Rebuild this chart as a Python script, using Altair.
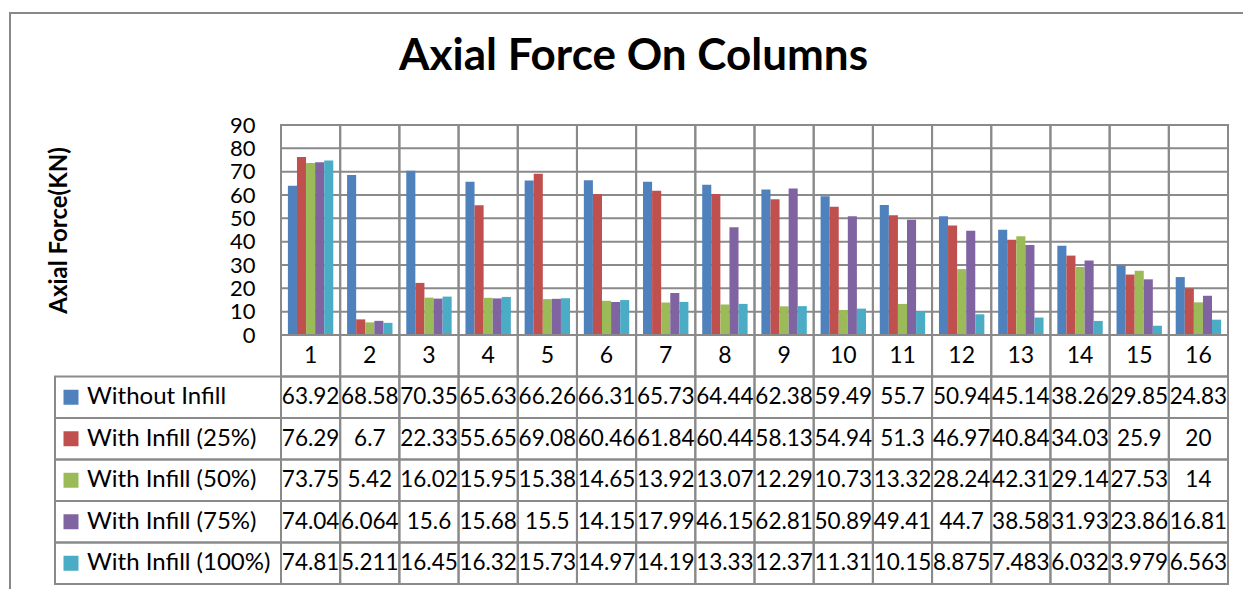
import altair as alt
import pandas as pd

# ---- data -----------------------------------------------------------------
CATEGORIES = [str(i) for i in range(1, 17)]
SERIES = [
    "Without Infill",
    "With Infill (25%)",
    "With Infill (50%)",
    "With Infill (75%)",
    "With Infill (100%)",
]
COLORS = ["#4F81BD", "#C0504D", "#9BBB59", "#8064A2", "#4BACC6"]

WITHOUT_INFILL = [63.92, 68.58, 70.35, 65.63, 66.26, 66.31, 65.73, 64.44,
                  62.38, 59.49, 55.7, 50.94, 45.14, 38.26, 29.85, 24.83]
INFILL_25 = [76.29, 6.7, 22.33, 55.65, 69.08, 60.46, 61.84, 60.44,
             58.13, 54.94, 51.3, 46.97, 40.84, 34.03, 25.9, 20]
INFILL_50 = [73.75, 5.42, 16.02, 15.95, 15.38, 14.65, 13.92, 13.07,
             12.29, 10.73, 13.32, 28.24, 42.31, 29.14, 27.53, 14]
INFILL_75 = [74.04, 6.064, 15.6, 15.68, 15.5, 14.15, 17.99, 46.15,
             62.81, 50.89, 49.41, 44.7, 38.58, 31.93, 23.86, 16.81]
INFILL_100 = [74.81, 5.211, 16.45, 16.32, 15.73, 14.97, 14.19, 13.33,
              12.37, 11.31, 10.15, 8.875, 7.483, 6.032, 3.979, 6.563]

Y_TICKS = [0, 10, 20, 30, 40, 50, 60, 70, 80, 90]
Y_MAX = 90

# ---- layout (pixels inside the chart group) -------------------------------
LABEL_COL = 226      # width of the series-name column of the data table
WIDTH = 1173         # label column + plot area
PLOT_H = 210         # height of the bar area
HEIGHT = 459         # bar area + category row + five table rows
FONT = "Lato"
LINE = "#8a8a8a"
ROW_KEYS = ["category"] + SERIES

records = []
for name, vals in zip(SERIES, [WITHOUT_INFILL, INFILL_25, INFILL_50, INFILL_75, INFILL_100]):
    for cat, v in zip(CATEGORIES, vals):
        records.append({"col": cat, "series": name, "value": v, "label": str(v)})
long_df = pd.DataFrame(records)
cat_df = pd.DataFrame({"col": CATEGORIES, "row": "category"})
cells_df = pd.DataFrame([{"col": c, "row": r} for r in ROW_KEYS for c in CATEGORIES])
series_df = pd.DataFrame({"series": SERIES})
grid_df = pd.DataFrame({"tick": Y_TICKS})

x_scale = alt.Scale(domain=CATEGORIES, range=[LABEL_COL, WIDTH], paddingInner=0, paddingOuter=0)
value_scale = alt.Scale(domain=[0, Y_MAX], range=[PLOT_H, 0], nice=False)
row_scale = alt.Scale(domain=ROW_KEYS, range=[PLOT_H, HEIGHT], paddingInner=0, paddingOuter=0)
color_scale = alt.Scale(domain=SERIES, range=COLORS)

X = alt.X("col:N", scale=x_scale, axis=None, sort=CATEGORIES)

# chart-area frame
frame = alt.Chart(pd.DataFrame({"k": [0]})).mark_rect(
    fillOpacity=0, stroke="#888888", strokeWidth=2
).encode(x=alt.value(-45), x2=alt.value(1210), y=alt.value(-112), y2=alt.value(490))

# vertical separators of the plot area, one cell per category
plot_cells = alt.Chart(cat_df).mark_rect(
    fillOpacity=0, stroke=LINE, strokeWidth=2
).encode(x=X, y=alt.value(0), y2=alt.value(PLOT_H))

# horizontal gridlines across the plot area only
gridlines = alt.Chart(grid_df).mark_rule(color=LINE, strokeWidth=2).encode(
    y=alt.Y("tick:Q", scale=value_scale, axis=None),
    x=alt.value(LABEL_COL),
    x2=alt.value(WIDTH),
)

bars = alt.Chart(long_df).mark_bar().encode(
    x=X,
    xOffset=alt.XOffset(
        "series:N", sort=SERIES,
        scale=alt.Scale(domain=SERIES, paddingInner=0, paddingOuter=0.76),
    ),
    y=alt.Y(
        "value:Q",
        scale=value_scale,
        title="Axial Force(KN)",
        axis=alt.Axis(
            values=Y_TICKS, offset=-LABEL_COL, domain=False, ticks=False,
            tickSize=0, grid=False, labelPadding=26, labelFont=FONT,
            labelFontSize=22, labelColor="black", labelOverlap=False,
            titleFont=FONT, titleFontSize=24, titleFontWeight="bold",
            titleColor="black", titlePadding=158,
        ),
    ),
    color=alt.Color("series:N", scale=color_scale, legend=None),
)

# data table: cell borders
table_cells = alt.Chart(cells_df).mark_rect(
    fillOpacity=0, stroke=LINE, strokeWidth=2
).encode(x=X, y=alt.Y("row:N", scale=row_scale, axis=None))

label_cells = alt.Chart(series_df).mark_rect(
    fillOpacity=0, stroke=LINE, strokeWidth=2
).encode(
    x=alt.value(0), x2=alt.value(LABEL_COL),
    y=alt.Y("series:N", scale=row_scale, axis=None),
)

# category numbers
cat_text = alt.Chart(cat_df).mark_text(font=FONT, fontSize=23, color="black").encode(
    x=X, y=alt.Y("row:N", scale=row_scale, axis=None), text="col:N"
)

# values of every series in its row
value_text = alt.Chart(long_df).mark_text(font=FONT, fontSize=22.5, color="black").encode(
    x=X, y=alt.Y("series:N", scale=row_scale, axis=None), text="label:N"
)

# series names with their colour keys
key_squares = alt.Chart(series_df).mark_square(size=225, opacity=1).encode(
    x=alt.value(16),
    y=alt.Y("series:N", scale=row_scale, axis=None),
    color=alt.Color("series:N", scale=color_scale, legend=None),
)
key_text = alt.Chart(series_df).mark_text(
    font=FONT, fontSize=24, color="black", align="left"
).encode(
    x=alt.value(32),
    y=alt.Y("series:N", scale=row_scale, axis=None),
    text="series:N",
)

chart = alt.layer(
    frame, plot_cells, gridlines, bars, table_cells, label_cells,
    cat_text, value_text, key_squares, key_text,
).resolve_scale(y="independent").properties(
    width=WIDTH,
    height=HEIGHT,
    autosize="none",
    padding={"left": 55, "top": 125, "right": 15, "bottom": 5},
    background="white",
    title=alt.Title(
        "Axial Force On Columns", font=FONT, fontSize=44, fontWeight="bold",
        color="black", anchor="middle", frame="group", offset=0, dx=-8, dy=67,
    ),
).configure_view(strokeWidth=0)

chart.save("out.html", embed_options={"renderer": "svg", "actions": False})
